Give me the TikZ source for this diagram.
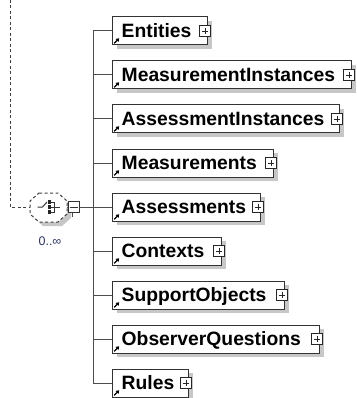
\documentclass[tikz,border=0pt]{standalone}
\usepackage{fontspec}
\setmainfont{Liberation Sans}
\usetikzlibrary{shadows,arrows.meta}
\definecolor{occcol}{RGB}{45,55,95}
\begin{document}
\begin{tikzpicture}[x=1pt,y=-1pt,
  conn/.style={draw=black!70, line width=1pt},
  dashconn/.style={draw=black!75, line width=1pt, dash pattern=on 3pt off 2.5pt},
  shadowed/.style={drop shadow={shadow xshift=4pt, shadow yshift=-4pt, fill=black!22, opacity=1}},
  elem/.style={rectangle, draw=black!80, fill=white, line width=1pt, minimum height=28pt, inner sep=0pt, anchor=west, shadowed},
  lbl/.style={anchor=base west, inner sep=0pt, font=\fontsize{19.3}{22}\selectfont\bfseries, text=black},
  plusbox/.style={rectangle, draw=black!85, fill=white, line width=0.8pt, minimum size=10.5pt, inner sep=0pt,
    path picture={\draw[line width=0.8pt, black!85] ([xshift=2.2pt]path picture bounding box.west) -- ([xshift=-2.2pt]path picture bounding box.east) ([yshift=-2.2pt]path picture bounding box.north) -- ([yshift=2.2pt]path picture bounding box.south);}},
  minusbox/.style={rectangle, draw=black!80, fill=white, line width=1pt, minimum size=11.5pt, inner sep=0pt,
    path picture={\draw[line width=1pt, black!80] ([xshift=2pt]path picture bounding box.west) -- ([xshift=-2pt]path picture bounding box.east);}},
  refarrow/.style={line width=1.3pt, black, -{Triangle[length=3pt,width=4pt]}},
  octline/.style={draw=black!75, dash pattern=on 3pt off 2.5pt, fill=white, line width=1pt},
]
\useasboundingbox (0,0) rectangle (356,398);

% elements
\foreach \i/\name/\r in {0/Entities/207, 1/MeasurementInstances/351, 2/AssessmentInstances/339, 3/Measurements/273, 4/Assessments/260, 5/Contexts/221, 6/SupportObjects/284, 7/ObserverQuestions/319, 8/Rules/188}{
  \pgfmathsetmacro\c{31+44*\i}
  \coordinate (j\i) at (93,\c);
  \node[elem, minimum width={\r-112}] (b\i) at (112,\c) {};
  \node[lbl] (t\i) at ({121.5},{\c+6.8}) {\name};
  \node[plusbox] (p\i) at ({\r-2},\c) {};
  \draw[refarrow] ([shift={(2.2,-2.2)}]b\i.south west) -- ++(5,-5);
  \draw[conn] (j\i) -- (b\i.west);
}
\draw[conn] (j0) -- (j8);

% choice compositor (octagon)
\fill[black!22] (43,197) -- (62,197) -- (71,205) -- (71,218) -- (62,226) -- (43,226) -- (34,218) -- (34,205) -- cycle;
\path[octline] (39,193) -- (58,193) -- (67,201) -- (67,214) -- (58,222) -- (39,222) -- (30,214) -- (30,201) -- cycle;
\coordinate (choicew) at (30,207);
\coordinate (choicee) at (67,207);
\node[minusbox] (minus) at (74,207) {};
\draw[conn] (choicee) -- (minus.west);
\draw[conn] (minus.east) -- (j4);
\draw[conn] ([xshift=-1.5pt]minus.south) -- ++(0,4);

\begin{scope}[shift={(48.5,207)}]
  \draw[line width=1pt, black!80] (-11,0) -- (-6,0) -- (-1.5,-5);
  \fill[black!85] (-0.8,-6.8) rectangle (2.8,-3.2);
  \fill[black!85] (-0.8,-1.8) rectangle (2.8,1.8);
  \fill[black!85] (-0.8,3.2) rectangle (2.8,6.8);
  \draw[line width=1pt, black!80] (2.8,-5) -- (6,-5) -- (6,5) -- (2.8,5) (2.8,0) -- (11,0);
\end{scope}

\coordinate (top) at (10,0);
\coordinate (bend) at (10,207);
\draw[dashconn] (top) -- (bend) -- (choicew);

\node[font=\fontsize{12.5}{14}\selectfont, text=occcol, inner sep=0pt] (occ) at (50,241) {0..∞};
\end{tikzpicture}
\end{document}
